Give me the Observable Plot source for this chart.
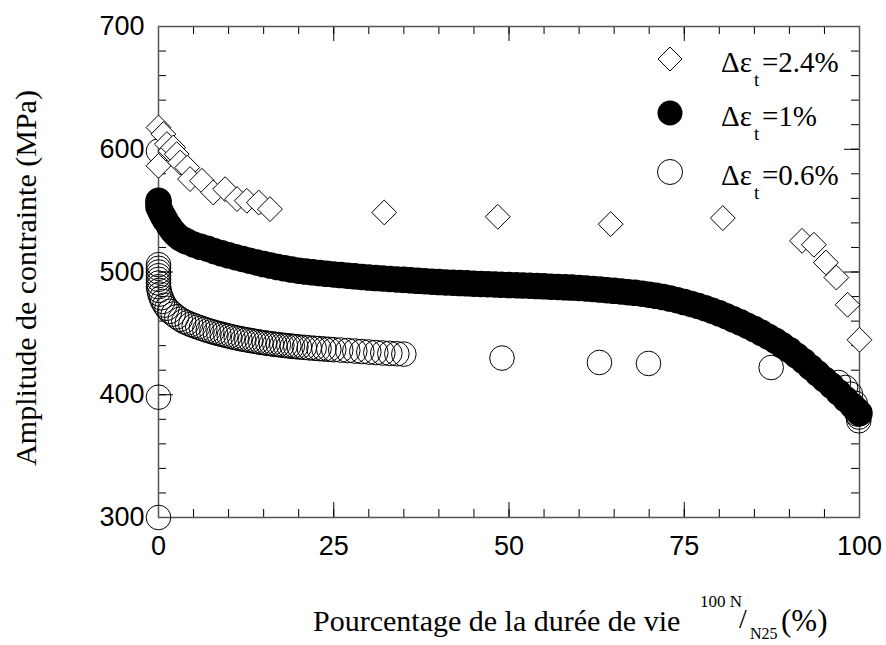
<!DOCTYPE html>
<html>
<head>
<meta charset="utf-8">
<script src="https://cdn.jsdelivr.net/npm/d3@7"></script>
<script src="https://cdn.jsdelivr.net/npm/@observablehq/plot@0.6"></script>
<style>
  html, body { margin: 0; padding: 0; background: #fff; }
  #wrap { position: relative; width: 886px; height: 645px; overflow: hidden; }
  #overlay { position: absolute; left: 0; top: 0; pointer-events: none; }
</style>
</head>
<body>
<div id="wrap"><div id="chart"></div><svg id="overlay" width="886" height="645"></svg></div>
<script>
// ---- Data ----
// Δε_t = 2.4 % (open diamonds)
const d24X = [0, 0.7, 0, 1.2, 1.7, 2.1, 2.6, 3.1, 4.1, 4.5, 6.2, 7.8, 9.5, 11.2, 12.6, 14.3, 15.9, 32.2, 48.4, 64.5, 80.5, 91.8, 93.5, 95.2, 96.7, 98.3, 100];
const d24Y = [617.7, 612.3, 586.5, 604.2, 598.7, 601.4, 596, 589.2, 585.1, 575.7, 574.3, 564.8, 567.5, 559.4, 558, 556.6, 551.2, 548.5, 545, 539, 543.9, 525.4, 522.2, 507.7, 495.5, 473.3, 444.8];

// Δε_t = 1 % (filled circles)
const d1X = [0, 0, 0, 0.25, 0.5, 0.75, 1, 1.5, 2, 2.5, 3, 3.5, 4, 5, 6, 7, 8, 9, 10, 11, 12, 13, 14, 15, 16, 17, 18, 19, 20,
  21, 22, 23, 24, 25, 26, 27, 28, 29, 30, 31, 32, 33, 34, 35, 36, 37, 38, 39, 40, 41, 42, 43, 44, 45, 46, 47, 48, 49, 50,
  51, 52, 53, 54, 55, 56, 57, 58, 59, 60, 61, 62, 63, 64, 65, 66, 67, 68, 69, 70, 71, 72, 73, 74, 75, 76, 77, 78, 79, 80,
  81, 82, 83, 84, 85, 86, 87, 88, 89, 90, 91, 92, 93, 94, 95, 96, 97, 98, 99, 99.5, 100];
const d1Y = [558, 556, 553, 550, 547, 544.5, 542, 537.5, 533.5, 530.5, 528, 526.3, 525, 522.5, 520.5, 519, 517, 515.2, 513.6, 512.1, 510.6, 509.2, 507.8, 506.5, 505.2, 504, 503, 502, 501.1,
  500.4, 499.7, 499.1, 498.5, 498, 497.5, 497, 496.5, 496, 495.5, 495.1, 494.7, 494.3, 493.9, 493.6, 493.2, 492.8, 492.5, 492.1, 491.8, 491.5, 491.3, 491, 490.8, 490.5, 490.3, 490.1, 489.9, 489.6, 489.4,
  489.2, 489, 488.8, 488.5, 488.3, 488, 487.8, 487.5, 487.3, 487, 486.6, 486.2, 485.7, 485.2, 484.7, 484.2, 483.6, 483, 482.3, 481.5, 480.6, 479.6, 478.4, 477, 475.5, 474, 472.3, 470.5, 468.5, 466.3,
  464, 461.5, 459, 456.3, 453.5, 450.5, 447.3, 444, 440.3, 436.5, 432, 427.5, 422.5, 417.5, 412.5, 407.5, 402, 396.5, 391, 388, 385];

// Δε_t = 0.6 % (open circles)
const d06X = [0, 0, 0, 0, 0, 0, 0, 0, 0, 0, 0.1, 0.2, 0.4, 0.6, 0.9, 1.2, 1.6, 2.1, 2.6, 3.1, 3.6, 4.1, 4.6, 5.1, 5.6, 6.1, 6.6, 7.1, 7.6, 8.1, 8.6, 9.1, 9.6, 10.1,
  10.6, 11.1, 11.6, 12.1, 12.6, 13.1, 13.6, 14.1, 14.6, 15.1, 15.6, 16.1, 16.6, 17.1, 17.6, 18.1, 18.6, 19.1, 19.6, 20.1, 20.8, 21.5, 22.2, 22.9, 23.6, 24.3, 25,
  26, 27, 28, 29, 30, 31, 32, 33, 34, 35, 49, 62.9, 69.9, 87.4, 97, 98, 98.7, 99.4, 99.7, 99.7, 99.9, 99.9];
const d06Y = [300, 398, 598.5, 506, 503, 500, 497, 494, 491, 488, 485, 482, 479, 476, 473, 470.5, 468, 465.7, 463.5, 461.5, 459.8, 458.5, 457.3, 456.2, 455.2, 454.2, 453.2, 452.3, 451.4, 450.6, 449.8, 449.1, 448.4, 447.7,
  447, 446.4, 445.8, 445.2, 444.7, 444.2, 443.7, 443.2, 442.7, 442.3, 441.9, 441.5, 441.1, 440.8, 440.4, 440.1, 439.8, 439.5, 439.2, 438.9, 438.6, 438.2, 437.9, 437.6, 437.3, 437, 436.7,
  436.4, 436, 435.6, 435.2, 434.8, 434.4, 434, 433.7, 433.4, 433.1, 429.9, 426.3, 425.5, 422.2, 410, 405.9, 400.5, 393, 386.9, 384.2, 381.8, 378.8];

const xMajor = [0, 25, 50, 75, 100];
const xMinor = d3.range(0, 101, 5);
const yMajor = [300, 400, 500, 600, 700];
const yMinor = d3.range(300, 701, 20);

const legendLabels = ["=2.4%", "=1%", "=0.6%"];
const xTitle = "Pourcentage de la durée de vie";
const yTitle = "Amplitude de contrainte (MPa)";

// ---- Build ----
const s24 = d24X.map((x, i) => ({x, y: d24Y[i]}));
const s1 = d1X.map((x, i) => ({x, y: d1Y[i]}));
const s06 = d06X.map((x, i) => ({x, y: d06Y[i]}));

const W = 886, H = 645;
const mL = 158, mR = 27, mT = 26, mB = 128;
const PW = W - mL - mR, PH = H - mT - mB;
const majLen = 15, minLen = 8;

const tickMarks = (vals, len) => [
  Plot.tickX(vals, {x: d => d, insetTop: PH - len, stroke: "black"}),
  Plot.tickX(vals, {x: d => d, insetBottom: PH - len, stroke: "black"}),
];
const tickMarksY = (vals, len) => [
  Plot.tickY(vals, {y: d => d, insetRight: PW - len, stroke: "black"}),
  Plot.tickY(vals, {y: d => d, insetLeft: PW - len, stroke: "black"}),
];

const chart = Plot.plot({
  width: W, height: H,
  marginLeft: mL, marginRight: mR, marginTop: mT, marginBottom: mB,
  style: {fontFamily: "'Liberation Sans', Arial, sans-serif", fontSize: "27px", color: "black", background: "white", overflow: "visible"},
  x: {domain: [0, 100]},
  y: {domain: [300, 700]},
  marks: [
    ...tickMarks(xMinor, minLen), ...tickMarks(xMajor, majLen),
    ...tickMarksY(yMinor, minLen), ...tickMarksY(yMajor, majLen),
    Plot.frame({stroke: "#555", strokeWidth: 1.5}),
    Plot.axisX({ticks: xMajor, tickSize: 0, tickPadding: 18, tickFormat: d => String(d), label: null, fill: "black"}),
    Plot.axisY({ticks: yMajor, tickSize: 0, tickPadding: 14, tickFormat: d => String(d), label: null, fill: "black"}),
    Plot.dot(s06, {x: "x", y: "y", r: 12.3, stroke: "black", strokeWidth: 1, fill: "none"}),
    Plot.dot(s1, {x: "x", y: "y", r: 12.5, fill: "black", stroke: "black"}),
    Plot.dot(s24, {x: "x", y: "y", symbol: "diamond2", r: 11.2, stroke: "black", strokeWidth: 1, fill: "white"}),
  ]
});
document.getElementById("chart").appendChild(chart);

// ---- Overlay: axis titles and legend ----
const ov = d3.select("#overlay");
const serif = "'Liberation Serif', 'Times New Roman', serif";

ov.append("text")
  .attr("transform", "translate(36,278) rotate(-90)")
  .attr("text-anchor", "middle")
  .attr("font-family", serif).attr("font-size", 30)
  .text(yTitle);

const addT = (x, y, size, txt) => ov.append("text").attr("x", x).attr("y", y)
  .attr("font-family", serif).attr("font-size", size).text(txt);
addT(313, 631, 30, xTitle);
addT(700, 607, 17, "100 N");
addT(739, 628, 28, "/");
addT(750, 639, 16, "N25");
addT(781, 631, 31, "(%)");

const rows = [59, 113, 172];
const symX = 670;
ov.append("path").attr("d", `M${symX},${rows[0]-12}L${symX+12},${rows[0]}L${symX},${rows[0]+12}L${symX-12},${rows[0]}Z`)
  .attr("fill", "white").attr("stroke", "black");
ov.append("circle").attr("cx", symX).attr("cy", rows[1]).attr("r", 12.5).attr("fill", "black");
ov.append("circle").attr("cx", symX).attr("cy", rows[2]).attr("r", 12.5).attr("fill", "white").attr("stroke", "black");

rows.forEach((cy, i) => {
  const base = cy + 12.5;
  addT(721, base, 29, "Δε");
  addT(754, base + 14, 19, "t");
  addT(762, base, 29, legendLabels[i]);
});
</script>
</body>
</html>
